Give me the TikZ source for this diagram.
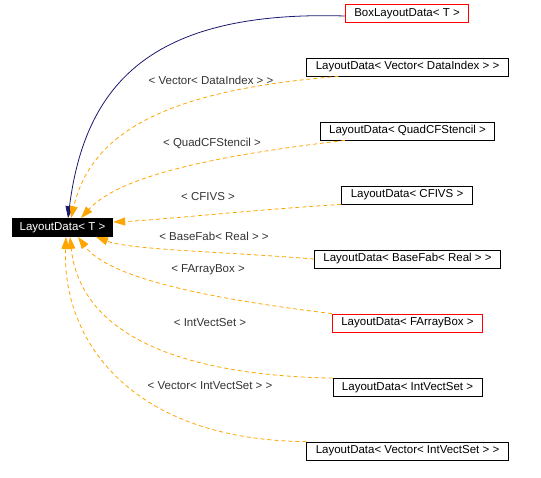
\documentclass[tikz,border=0pt]{standalone}
\usepackage{fontspec}
\setmainfont{Liberation Sans}
\usetikzlibrary{arrows.meta}

\begin{document}
\begin{tikzpicture}[x=1pt, y=-1pt,
  every node/.style={font=\fontsize{11.5}{13}\selectfont},
  cls/.style={draw=black, line width=0.8pt, fill=white, inner xsep=9pt, inner ysep=0pt, minimum height=18pt},
  redcls/.style={cls, draw=red},
  focus/.style={cls, fill=black, text=white, inner xsep=7.5pt},
  tmpl/.style={text=black!80},
  inherit/.style={draw=navycolor, line width=0.8pt, -{Triangle[length=12pt,width=8pt]}},
  usage/.style={draw=usecolor, line width=0.8pt, dash pattern=on 4pt off 3pt, -{Triangle[length=12pt,width=8pt]}}]
  % Define colors
  \definecolor{navycolor}{RGB}{25,25,112}
  \definecolor{usecolor}{RGB}{255,165,0}

  \useasboundingbox (0,0) rectangle (541,477);

  % Classes
  \node[focus] (T) at (62.5,227.5) {LayoutData< T >};
  \node[redcls] (box) at (407,13.5) {BoxLayoutData< T >};
  \node[cls] (vdi) at (407.5,67) {LayoutData< Vector< DataIndex > >};
  \node[cls] (quad) at (407.5,131) {LayoutData< QuadCFStencil >};
  \node[cls] (cfivs) at (407,195) {LayoutData< CFIVS >};
  \node[cls] (bfab) at (407.5,259) {LayoutData< BaseFab< Real > >};
  \node[redcls] (fab) at (407.5,323) {LayoutData< FArrayBox >};
  \node[cls] (ivs) at (407.5,387.5) {LayoutData< IntVectSet >};
  \node[cls] (vivs) at (407.5,451) {LayoutData< Vector< IntVectSet > >};

  % Inheritance
  \draw[inherit] ([yshift=-2.5pt]box.west) .. controls (150,10) and (85,85) .. ([xshift=5.5pt]T.north);

  % Template instances
  \draw[usage] ([xshift=32pt]vdi.south west) .. controls (170,90) and (92,130) .. ([xshift=8.5pt]T.north);
  \draw[usage] ([xshift=25pt]quad.south west) .. controls (220,155) and (120,175) .. ([xshift=18.5pt]T.north);
  \draw[usage] (cfivs.south west) .. controls (250,210) and (160,220) .. ([yshift=5.5pt]T.east);
  \draw[usage] (bfab.west) .. controls (230,252) and (130,250) .. ([xshift=33.5pt]T.south);
  \draw[usage] (fab.north west) .. controls (220,300) and (110,280) .. ([xshift=15.5pt]T.south);
  \draw[usage] (ivs.north west) .. controls (170,375) and (80,330) .. ([xshift=7.5pt]T.south);
  \draw[usage] (vivs.north west) .. controls (130,440) and (62,340) .. ([xshift=3.5pt]T.south);

  % Labels
  \node[tmpl] (l1) at (211,80) {< Vector< DataIndex > >};
  \node[tmpl] (l2) at (212,143) {< QuadCFStencil >};
  \node[tmpl] (l3) at (208,197) {< CFIVS >};
  \node[tmpl] (l4) at (214,236) {< BaseFab< Real > >};
  \node[tmpl] (l5) at (208,270) {< FArrayBox >};
  \node[tmpl] (l6) at (210,323) {< IntVectSet >};
  \node[tmpl] (l7) at (210,386) {< Vector< IntVectSet > >};
\end{tikzpicture}
\end{document}
